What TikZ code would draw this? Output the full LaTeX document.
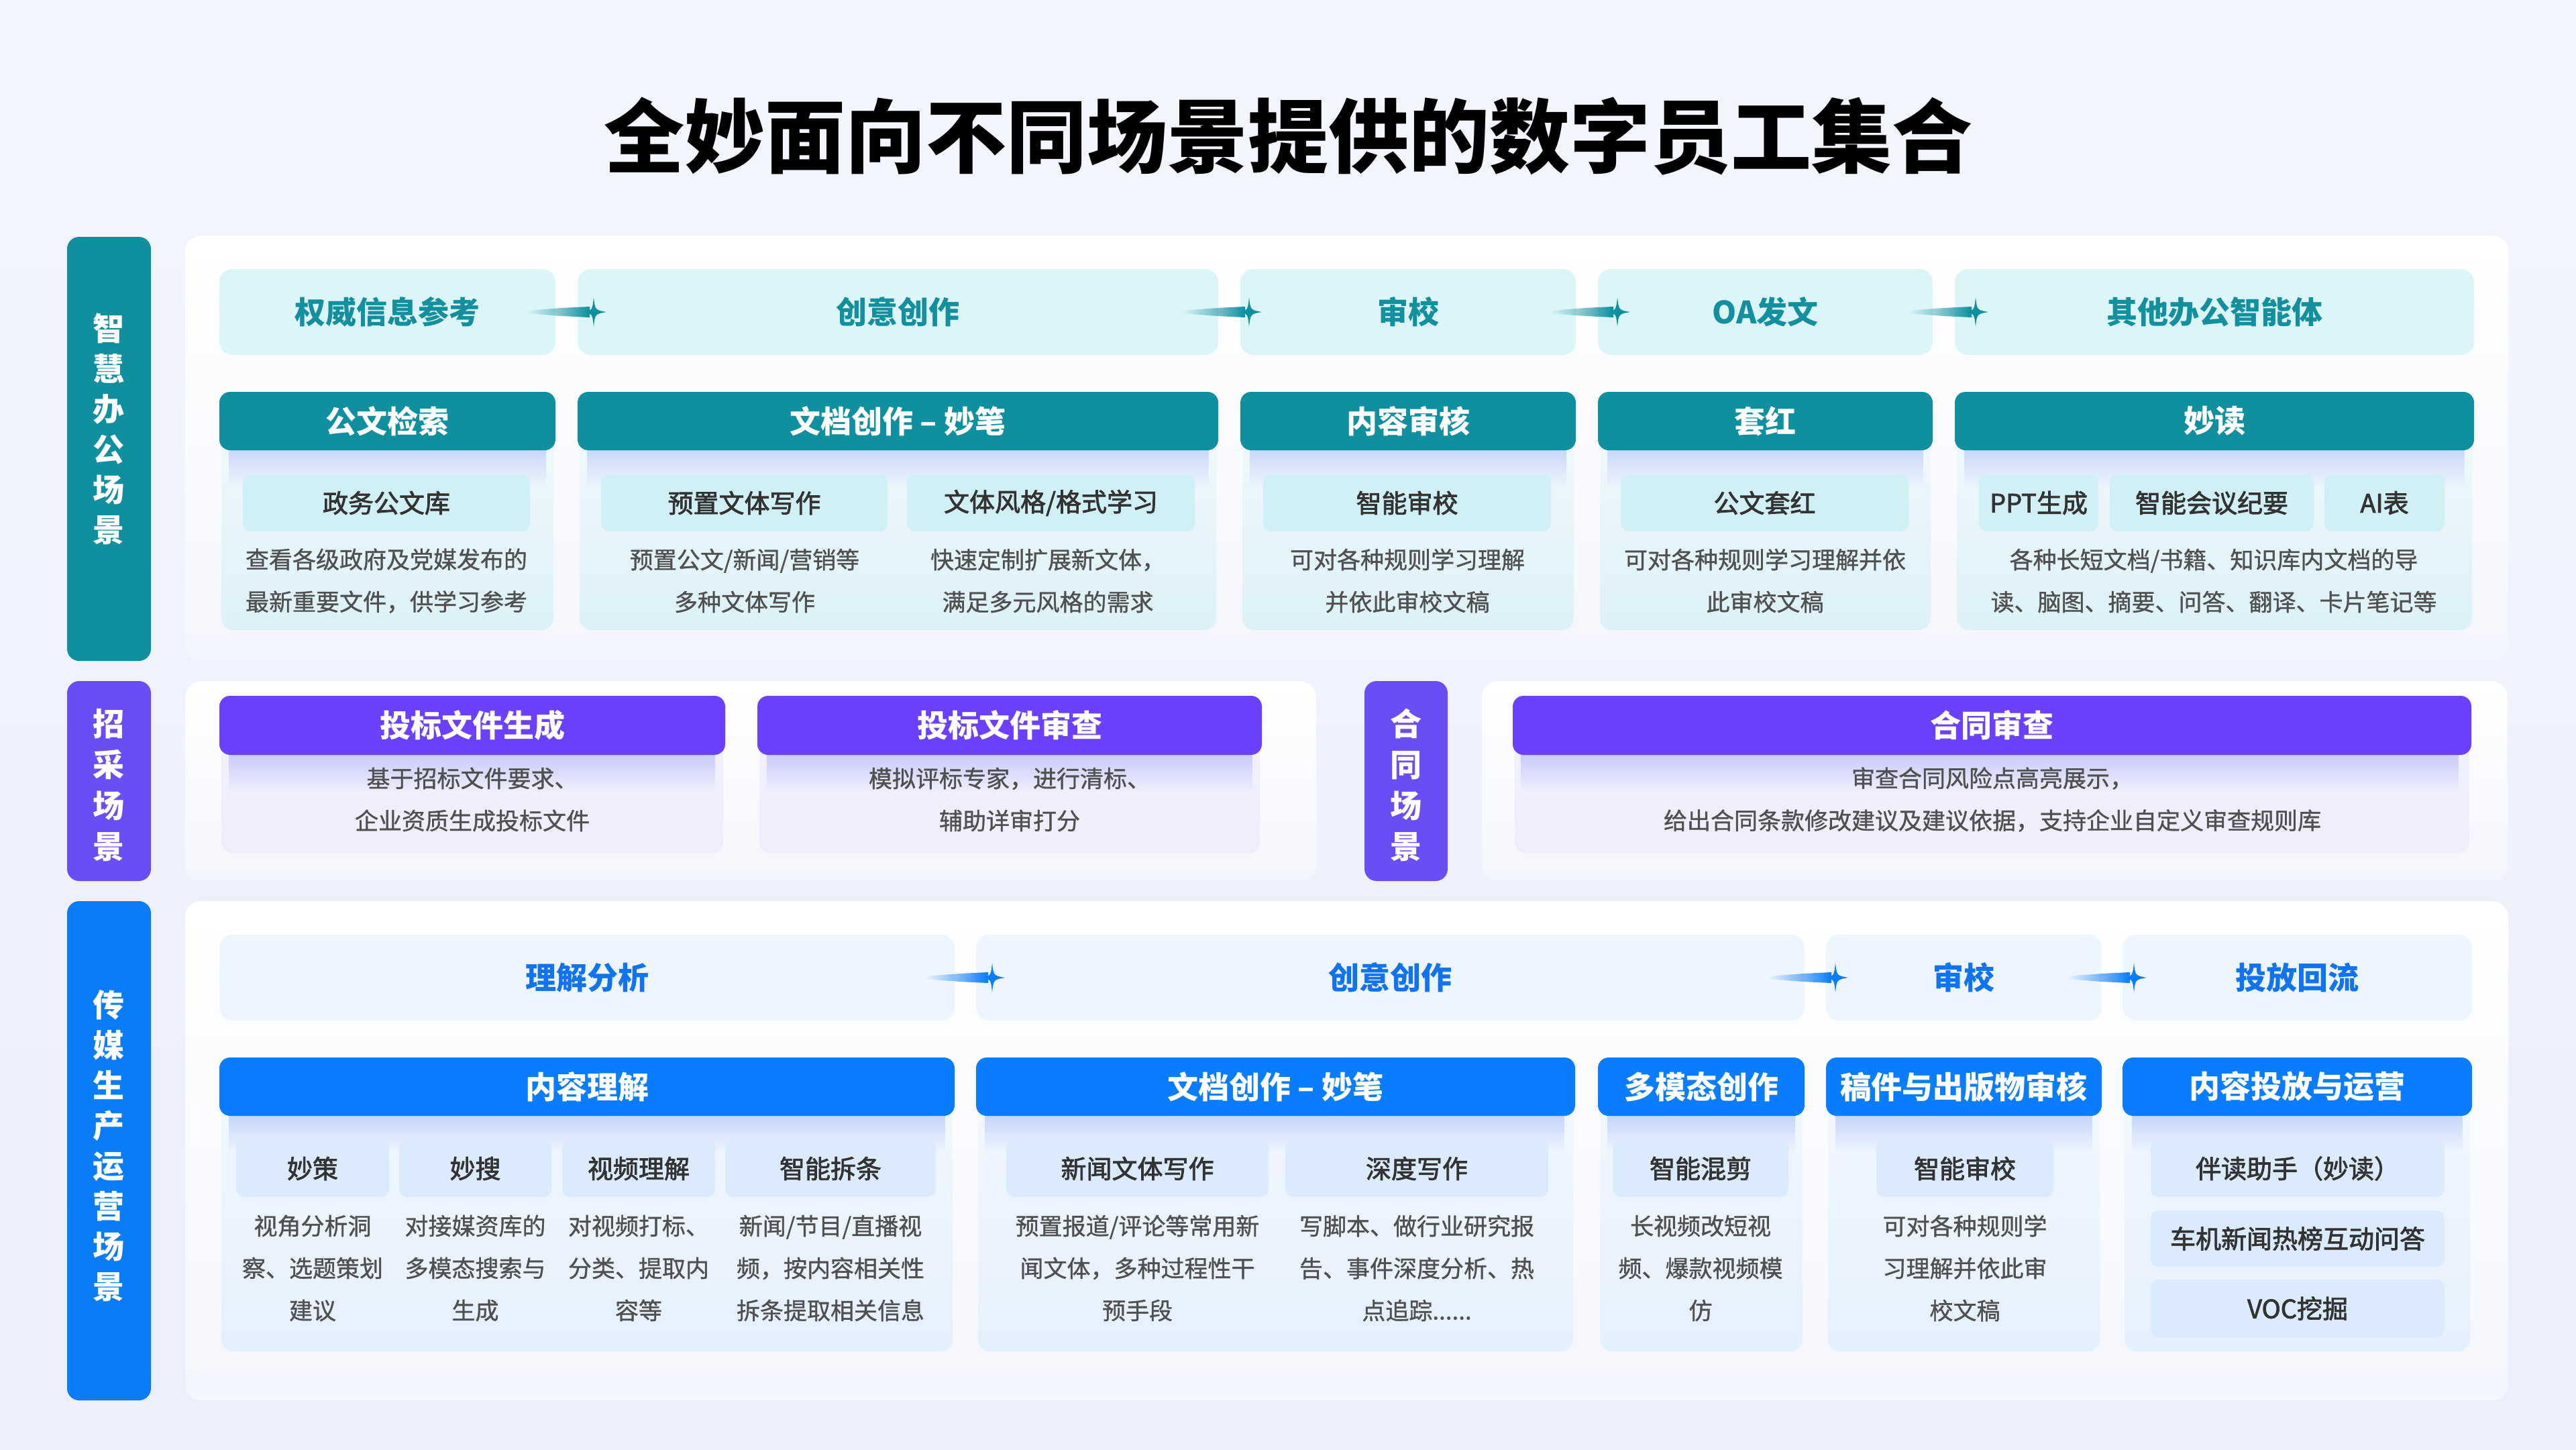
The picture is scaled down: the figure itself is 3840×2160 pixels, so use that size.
\documentclass[tikz,border=0pt]{standalone}
\usepackage{fontspec}
\setmainfont{Noto Sans CJK SC}
\newfontfamily\medA{Noto Sans CJK SC}[FakeBold=2.2]
\newfontfamily\medB{Noto Sans CJK SC}[FakeBold=1.0]
\usetikzlibrary{calc,fadings}
\definecolor{bgTop}{HTML}{F4F6FE}
\definecolor{bgBot}{HTML}{EBEEFB}
\definecolor{panT}{HTML}{FFFFFF}
\definecolor{panB}{HTML}{F4F6FD}
\definecolor{tealH}{HTML}{10909F}
\definecolor{tealPill}{HTML}{DBF5F9}
\definecolor{tealTxt}{HTML}{138F9E}
\definecolor{tealSub}{HTML}{D1F0F5}
\definecolor{tealCardT}{HTML}{F4F9FE}
\definecolor{tealCardB}{HTML}{DCF1F7}
\definecolor{hAsh}{HTML}{C9D5FA}
\definecolor{purH}{HTML}{6C40FF}
\definecolor{purBar}{HTML}{6A4DF5}
\definecolor{purCardT}{HTML}{F2F1FE}
\definecolor{purCardB}{HTML}{EEEDFC}
\definecolor{hBsh}{HTML}{C6C9FA}
\definecolor{bluH}{HTML}{0A7CFF}
\definecolor{bluBar}{HTML}{0B7CF7}
\definecolor{bluPill}{HTML}{EDF5FE}
\definecolor{bluTxt}{HTML}{1273F0}
\definecolor{bluSub}{HTML}{DBEBFD}
\definecolor{bluCardT}{HTML}{F3F8FE}
\definecolor{bluCardB}{HTML}{E5F0FD}
\definecolor{hCsh}{HTML}{C3D3FB}
\definecolor{subTxt}{HTML}{333333}
\definecolor{descTxt}{HTML}{505050}
\newcommand\sbx[7]{\node[#1, minimum width={#5-#3}, minimum height={#6-#4}] (#2) at ({(#3+#5)/2},{(#4+#6)/2}) {#7};}
\newcommand\hunit[9]{%
 \node[#8, minimum width={#3-#2-6}, minimum height={#6-#4-15}] (#1c) at ({(#2+#3)/2},{(#4+15+#6)/2}) {};
 \fill[#7sh, path fading=south] ({#2+14},{#5-4}) rectangle ({#3-14},{#5+55});
 \node[#7, minimum width={#3-#2}, minimum height={#5-#4}] (#1) at ({(#2+#3)/2},{(#4+#5)/2}) {#9};}
\newcommand\spark[2]{%
 \fill[#2, path fading=west] ($(#1)+(-100,-2)$) .. controls ($(#1)+(-50,-6)$) .. ($(#1)+(-6,-8)$) -- ($(#1)+(-6,8)$) .. controls ($(#1)+(-50,6)$) .. ($(#1)+(-100,2)$) -- cycle;
 \fill[#2, shift={(#1)}] (0,-22) .. controls (2,-3) .. (19,0) .. controls (2,3) .. (0,22) .. controls (-2,3) .. (-14,0) .. controls (-2,-3) .. (0,-22) -- cycle;}
\begin{document}
\begin{tikzpicture}[x=1pt,y=-1pt,
 every node/.style={inner sep=0pt, outer sep=0pt},
 panel/.style={rounded corners=24, top color=panT, bottom color=panB},
 labA/.style={fill=tealH, rounded corners=18},
 labB/.style={fill=purBar, rounded corners=18},
 labC/.style={fill=bluBar, rounded corners=18},
 labtxt/.style={text=white, align=center, font=\fontsize{47}{60}\selectfont\bfseries},
 pillA/.style={fill=tealPill, rounded corners=20, text=tealTxt, font=\fontsize{46}{50}\selectfont\bfseries},
 pillC/.style={fill=bluPill, rounded corners=20, text=bluTxt, font=\fontsize{46}{50}\selectfont\bfseries},
 hA/.style={fill=tealH, rounded corners=16, text=white, font=\fontsize{46}{50}\selectfont\bfseries},
 hB/.style={fill=purH, rounded corners=16, text=white, font=\fontsize{46}{50}\selectfont\bfseries},
 hC/.style={fill=bluH, rounded corners=16, text=white, font=\fontsize{46}{50}\selectfont\bfseries},
 cardA/.style={rounded corners=18, top color=tealCardT, bottom color=tealCardB},
 cardB/.style={rounded corners=18, top color=purCardT, bottom color=purCardB},
 cardC/.style={rounded corners=18, top color=bluCardT, bottom color=bluCardB},
 subA/.style={fill=tealSub, rounded corners=12, text=subTxt, font=\medA\fontsize{38}{44}\selectfont},
 subC/.style={fill=bluSub, rounded corners=12, text=subTxt, font=\medA\fontsize{38}{44}\selectfont},
 desc/.style={text=descTxt, align=center, font=\medB\fontsize{35}{63}\selectfont},
]
\useasboundingbox (0,0) rectangle (3840,2160);
\shade[top color=bgTop, bottom color=bgBot] (0,0) rectangle (3840,2160);

\node[font=\fontsize{120}{130}\selectfont\bfseries, text=black] (title) at (1920,203) {全妙面向不同场景提供的数字员工集合};

% ===== Section 1 =====
\sbx{labA}{L1}{100}{353}{225}{985}{}
\node[labtxt] (L1t) at (162,639) {智\\慧\\办\\公\\场\\景};
\sbx{panel}{P1}{276}{351}{3739}{985}{}

\sbx{pillA}{p1}{327}{401}{828}{529}{权威信息参考}
\sbx{pillA}{p2}{861}{401}{1816}{529}{创意创作}
\sbx{pillA}{p3}{1849}{401}{2349}{529}{审校}
\sbx{pillA}{p4}{2382}{401}{2881}{529}{OA发文}
\sbx{pillA}{p5}{2914}{401}{3688}{529}{其他办公智能体}
\coordinate (a1) at ($(p2.west)+(24,0)$);
\coordinate (a2) at ($(p3.west)+(13,0)$);
\coordinate (a3) at ($(p4.west)+(29,0)$);
\coordinate (a4) at ($(p5.west)+(31,0)$);
\spark{a1}{tealH}\spark{a2}{tealH}\spark{a3}{tealH}\spark{a4}{tealH}

\hunit{h1}{327}{828}{584}{671}{939}{hA}{cardA}{公文检索}
\hunit{h2}{861}{1816}{584}{671}{939}{hA}{cardA}{文档创作 – 妙笔}
\hunit{h3}{1849}{2349}{584}{671}{939}{hA}{cardA}{内容审核}
\hunit{h4}{2382}{2881}{584}{671}{939}{hA}{cardA}{套红}
\hunit{h5}{2914}{3688}{584}{671}{939}{hA}{cardA}{妙读}

\sbx{subA}{s1}{362}{707}{790}{792}{政务公文库}
\sbx{subA}{s2a}{896}{707}{1323}{792}{预置文体写作}
\sbx{subA}{s2b}{1352}{707}{1781}{792}{文体风格/格式学习}
\sbx{subA}{s3}{1883}{707}{2312}{792}{智能审校}
\sbx{subA}{s4}{2416}{707}{2845}{792}{公文套红}
\sbx{subA}{s5a}{2950}{707}{3128}{792}{PPT生成}
\sbx{subA}{s5b}{3145}{707}{3449}{792}{智能会议纪要}
\sbx{subA}{s5c}{3465}{707}{3644}{792}{AI表}

\node[desc] (d1) at (576,865.5) {查看各级政府及党媒发布的\\最新重要文件，供学习参考};
\node[desc] (d2a) at (1110,865.5) {预置公文/新闻/营销等\\多种文体写作};
\node[desc] (d2b) at (1562,865.5) {快速定制扩展新文体，\\满足多元风格的需求};
\node[desc] (d3) at (2098,865.5) {可对各种规则学习理解\\并依此审校文稿};
\node[desc] (d4) at (2631,865.5) {可对各种规则学习理解并依\\此审校文稿};
\node[desc] (d5) at (3300,865.5) {各种长短文档/书籍、知识库内文档的导\\读、脑图、摘要、问答、翻译、卡片笔记等};

% ===== Section 2 =====
\sbx{labB}{L2}{100}{1015}{225}{1313}{}
\node[labtxt, font=\fontsize{47}{61}\selectfont\bfseries] (L2t) at (162,1170) {招\\采\\场\\景};
\sbx{panel}{P2}{276}{1015}{1962}{1313}{}
\sbx{labB}{L3}{2034}{1015}{2158}{1313}{}
\node[labtxt, font=\fontsize{47}{61}\selectfont\bfseries] (L3t) at (2096,1170) {合\\同\\场\\景};
\sbx{panel}{P3}{2209}{1015}{3738}{1313}{}

\hunit{g1}{327}{1081}{1037}{1125}{1272}{hB}{cardB}{投标文件生成}
\hunit{g2}{1129}{1881}{1037}{1125}{1272}{hB}{cardB}{投标文件审查}
\hunit{g3}{2255}{3684}{1037}{1125}{1272}{hB}{cardB}{合同审查}
\node[desc] (e1) at (704,1191.5) {基于招标文件要求、\\企业资质生成投标文件};
\node[desc] (e2) at (1505,1191.5) {模拟评标专家，进行清标、\\辅助详审打分};
\node[desc] (e3) at (2970,1191.5) {审查合同风险点高亮展示，\\给出合同条款修改建议及建议依据，支持企业自定义审查规则库};

% ===== Section 3 =====
\sbx{labC}{L4}{100}{1343}{225}{2087}{}
\node[labtxt] (L4t) at (162,1708) {传\\媒\\生\\产\\运\\营\\场\\景};
\sbx{panel}{P4}{276}{1343}{3739}{2087}{}

\sbx{pillC}{q1}{327}{1393}{1423}{1521}{理解分析}
\sbx{pillC}{q2}{1455}{1393}{2690}{1521}{创意创作}
\sbx{pillC}{q3}{2722}{1393}{3133}{1521}{审校}
\sbx{pillC}{q4}{3164}{1393}{3685}{1521}{投放回流}
\coordinate (b1) at ($(q2.west)+(24,0)$);
\coordinate (b2) at ($(q3.west)+(14,0)$);
\coordinate (b3) at ($(q4.west)+(17,0)$);
\spark{b1}{bluH}\spark{b2}{bluH}\spark{b3}{bluH}

\hunit{k1}{327}{1423}{1576}{1663}{2014}{hC}{cardC}{内容理解}
\hunit{k2}{1455}{2348}{1576}{1663}{2014}{hC}{cardC}{文档创作 – 妙笔}
\hunit{k3}{2382}{2690}{1576}{1663}{2014}{hC}{cardC}{多模态创作}
\hunit{k4}{2722}{3133}{1576}{1663}{2014}{hC}{cardC}{稿件与出版物审核}
\hunit{k5}{3164}{3685}{1576}{1663}{2014}{hC}{cardC}{内容投放与运营}

\sbx{subC}{t1}{352}{1699}{580}{1784}{妙策}
\sbx{subC}{t2}{595}{1699}{822}{1784}{妙搜}
\sbx{subC}{t3}{838}{1699}{1066}{1784}{视频理解}
\sbx{subC}{t4}{1081}{1699}{1395}{1784}{智能拆条}
\sbx{subC}{t5}{1500}{1699}{1891}{1784}{新闻文体写作}
\sbx{subC}{t6}{1916}{1699}{2308}{1784}{深度写作}
\sbx{subC}{t7}{2404}{1699}{2666}{1784}{智能混剪}
\sbx{subC}{t8}{2797}{1699}{3061}{1784}{智能审校}
\sbx{subC}{t9}{3206}{1699}{3644}{1784}{伴读助手（妙读）}
\sbx{subC}{t10}{3206}{1804}{3644}{1888}{车机新闻热榜互动问答}
\sbx{subC}{t11}{3206}{1907}{3644}{1993}{VOC挖掘}

\node[desc] (f1) at (466,1890) {视角分析洞\\察、选题策划\\建议};
\node[desc] (f2) at (708.5,1890) {对接媒资库的\\多模态搜索与\\生成};
\node[desc] (f3) at (952,1890) {对视频打标、\\分类、提取内\\容等};
\node[desc] (f4) at (1238,1890) {新闻/节目/直播视\\频，按内容相关性\\拆条提取相关信息};
\node[desc] (f5) at (1695.5,1890) {预置报道/评论等常用新\\闻文体，多种过程性干\\预手段};
\node[desc] (f6) at (2112,1890) {写脚本、做行业研究报\\告、事件深度分析、热\\点追踪......};
\node[desc] (f7) at (2535,1890) {长视频改短视\\频、爆款视频模\\仿};
\node[desc] (f8) at (2929,1890) {可对各种规则学\\习理解并依此审\\校文稿};
\end{tikzpicture}
\end{document}
